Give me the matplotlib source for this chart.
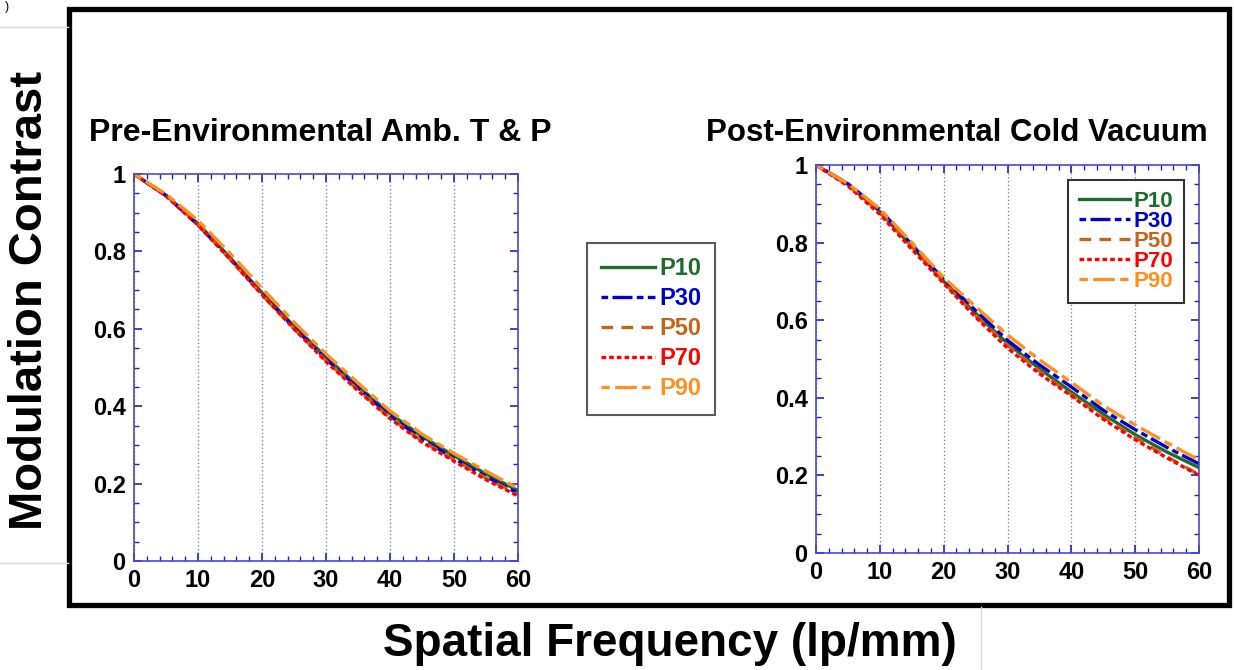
import numpy as np
import matplotlib
matplotlib.use("Agg")
import matplotlib.pyplot as plt
from matplotlib.patches import Rectangle
from matplotlib.lines import Line2D
from matplotlib.ticker import MultipleLocator, FuncFormatter

plt.rcParams['font.family'] = ['Liberation Sans', 'DejaVu Sans']
plt.rcParams['font.weight'] = 'bold'

#### data
freq = [0, 5, 10, 15, 20, 25, 30, 35, 40, 45, 50, 55, 60]
series_names = ['P10', 'P30', 'P50', 'P70', 'P90']

pre_p10 = [1.0, 0.945, 0.872, 0.784, 0.693, 0.607, 0.527, 0.452, 0.381, 0.322, 0.272, 0.225, 0.182]
pre_p30 = [1.0, 0.944, 0.868, 0.782, 0.690, 0.603, 0.522, 0.447, 0.375, 0.315, 0.265, 0.218, 0.175]
pre_p50 = [1.0, 0.945, 0.870, 0.780, 0.688, 0.600, 0.518, 0.442, 0.370, 0.310, 0.262, 0.214, 0.172]
pre_p70 = [1.0, 0.943, 0.868, 0.780, 0.688, 0.600, 0.515, 0.440, 0.368, 0.307, 0.258, 0.210, 0.168]
pre_p90 = [1.0, 0.948, 0.880, 0.795, 0.705, 0.617, 0.535, 0.460, 0.388, 0.328, 0.278, 0.232, 0.188]

post_p10 = [1.0, 0.950, 0.880, 0.790, 0.700, 0.618, 0.540, 0.475, 0.415, 0.358, 0.305, 0.260, 0.220]
post_p30 = [1.0, 0.952, 0.885, 0.795, 0.705, 0.625, 0.548, 0.485, 0.428, 0.368, 0.318, 0.272, 0.230]
post_p50 = [1.0, 0.948, 0.878, 0.790, 0.698, 0.612, 0.535, 0.468, 0.408, 0.350, 0.298, 0.248, 0.202]
post_p70 = [1.0, 0.946, 0.873, 0.783, 0.695, 0.608, 0.528, 0.462, 0.405, 0.345, 0.292, 0.245, 0.200]
post_p90 = [1.0, 0.952, 0.887, 0.800, 0.710, 0.635, 0.562, 0.498, 0.440, 0.380, 0.330, 0.284, 0.240]

pre_data = [pre_p10, pre_p30, pre_p50, pre_p70, pre_p90]
post_data = [post_p10, post_p30, post_p50, post_p70, post_p90]

### styles for each series
colors = ['#1e6b2e', '#0000cd', '#c8641a', '#ff0000', '#ff9020']
dashes = [None, (2.0, 1.3, 6.0, 1.3), (3.5, 2.5), (1.4, 0.9), (2.5, 1.6, 6.5, 1.6)]
spine_col = '#4848d0'

W, H = 1234, 670
fig = plt.figure(figsize=(W / 100, H / 100), dpi=100)


def px_box(x0, y0, x1, y1):
    """pixel box (top-left origin) -> figure fraction rect"""
    return [x0 / W, 1 - y1 / H, (x1 - x0) / W, (y1 - y0) / H]


def style_axes(ax):
    ax.set_xlim(0, 60)
    ax.set_ylim(0, 1)
    ax.xaxis.set_major_locator(MultipleLocator(10))
    ax.xaxis.set_minor_locator(MultipleLocator(2))
    ax.yaxis.set_major_locator(MultipleLocator(0.2))
    ax.yaxis.set_minor_locator(MultipleLocator(0.05))
    ax.yaxis.set_major_formatter(FuncFormatter(lambda v, p: '%g' % round(v, 2)))
    for s in ax.spines.values():
        s.set_color(spine_col)
        s.set_linewidth(1.2)
    ax.tick_params(which='both', direction='in', top=True, right=True,
                   color='#2020c0', labelsize=17, labelcolor='black')
    ax.tick_params(which='major', length=6, width=1.2, pad=6)
    ax.tick_params(which='minor', length=3.5, width=1.0)
    for lab in ax.get_xticklabels() + ax.get_yticklabels():
        lab.set_fontweight('bold')
    ax.grid(axis='x', which='major', linestyle=(0, (1, 2)), color='#7070b8', linewidth=0.9)


def draw(ax, data):
    lines = []
    for vals, c, d, name in zip(data, colors, dashes, series_names):
        ln, = ax.plot(freq, vals, color=c, lw=2.4, label=name)
        if d is not None:
            ln.set_dashes(d)
        lines.append(ln)
    return lines


ax1 = fig.add_axes(px_box(134, 174, 518, 561))
lines1 = draw(ax1, pre_data)
style_axes(ax1)

ax2 = fig.add_axes(px_box(816, 165, 1199, 553))
lines2 = draw(ax2, post_data)
style_axes(ax2)

### legends with coloured labels
leg1 = fig.legend(handles=lines1, loc='upper left', bbox_to_anchor=(587 / W, 1 - 243 / H),
                  borderaxespad=0, frameon=True, fancybox=False, edgecolor='#333333',
                  prop={'size': 17, 'weight': 'bold'}, handlelength=2.3, handletextpad=0.15,
                  labelspacing=0.3, borderpad=0.6)
leg1.get_frame().set_linewidth(1.5)
for t, c in zip(leg1.get_texts(), colors):
    t.set_color(c)

leg2 = ax2.legend(handles=lines2, loc='upper left', bbox_to_anchor=(1068 / W, 1 - 180 / H),
                  bbox_transform=fig.transFigure, borderaxespad=0, frameon=True, fancybox=False,
                  edgecolor='#333333', prop={'size': 16, 'weight': 'bold'}, handlelength=2.3,
                  handletextpad=0.15, labelspacing=-0.05, borderpad=0.5, framealpha=1)
leg2.get_frame().set_linewidth(1.5)
for t, c in zip(leg2.get_texts(), colors):
    t.set_color(c)

### titles
fig.text(320 / W, 1 - 133 / H, 'Pre-Environmental Amb. T & P', ha='center', va='center',
         fontsize=23, fontweight='bold')
fig.text(957 / W, 1 - 133 / H, 'Post-Environmental Cold Vacuum', ha='center', va='center',
         fontsize=22.5, fontweight='bold')

### outer black frame
fig.patches.append(Rectangle((69 / W, 1 - 605 / H), (1229 - 69) / W, (605 - 9) / H,
                             transform=fig.transFigure, fill=False, edgecolor='black',
                             linewidth=3.8))

### faint edges of the pasted label images
for xs, ys in [((0, 68), (27, 27)), ((0, 68), (563, 563)), ((981, 981), (607, 670))]:
    fig.add_artist(Line2D([x / W for x in xs], [1 - y / H for y in ys],
                          transform=fig.transFigure, color='#d8d8d8', lw=1))
fig.text(5 / W, 1 - 1 / H, ')', ha='left', va='top', fontsize=9, fontweight='normal')

### axis labels
fig.text(30 / W, 1 - 300 / H, 'Modulation Contrast', rotation=90, ha='center', va='center',
         fontsize=34, fontweight='bold')
fig.text(670 / W, 1 - 644 / H, 'Spatial Frequency (lp/mm)', ha='center', va='center',
         fontsize=33, fontweight='bold')

fig.savefig('out.png', dpi=100)
